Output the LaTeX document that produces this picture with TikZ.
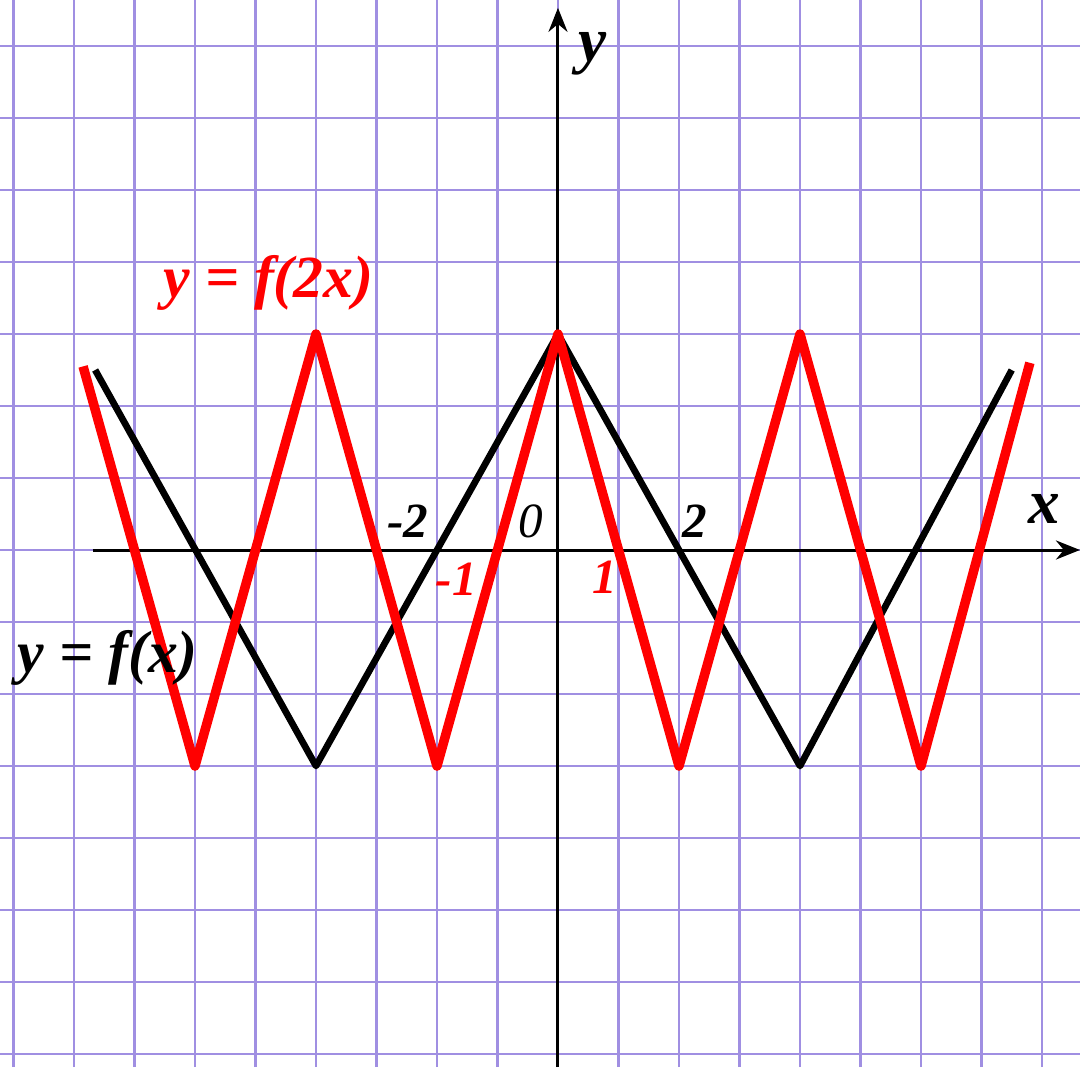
\documentclass[tikz,border=0pt]{standalone}
\usepackage{fontspec}
\setmainfont{Liberation Serif}
\usetikzlibrary{arrows.meta}
\definecolor{cmalla}{HTML}{A08FE2}
\definecolor{crojo}{HTML}{FF0000}
\tikzset{
  malla/.style={draw=cmalla, line width=0.6pt},
  eje/.style={-{Stealth[length=2.4mm, width=1.9mm]}, line width=0.85pt, draw=black},
  graf/.style={line width=1.9pt, draw=black, line join=round},
  grafr/.style={line width=2.7pt, draw=crojo, line join=round},
  etq/.style={font=\fontsize{17}{20}\selectfont\bfseries\itshape, anchor=base west, inner sep=0pt},
  etqeje/.style={font=\fontsize{18}{20}\selectfont\bfseries\itshape, anchor=base west, inner sep=0pt},
  num/.style={font=\fontsize{14}{16}\selectfont\bfseries\itshape, anchor=base west, inner sep=0pt},
}
\begin{document}
\begin{tikzpicture}[x=0.605cm, y=0.72cm]
  \useasboundingbox[fill=white] (-9.223,-7.181) rectangle (8.628,7.639);
  \draw[malla, step={(1,1)}] (-9.223,-7.181) grid (8.628,7.639);
  % ejes
  \coordinate (xini) at (-7.69,0);
  \coordinate (xfin) at (8.628,0);
  \coordinate (yini) at (0,-7.181);
  \coordinate (yfin) at (0,7.53);
  \draw[eje] (xini) -- (xfin);
  \draw[eje] (yini) -- (yfin);
  % graficas
  \draw[graf] (-7.65,2.5) -- (-4,-3) -- (0,3) -- (4,-3) -- (7.5,2.5);
  \draw[grafr] (-7.85,2.55) -- (-6,-3) -- (-4,3) -- (-2,-3) -- (0,3)
    -- (2,-3) -- (4,3) -- (6,-3) -- (7.8,2.6);
  % etiquetas
  \node[etqeje] (ex) at (7.77,0.375) {x};
  \node[etqeje] (ey) at (0.33,6.78) {y};
  \node[num] (nm2) at (-2.83,0.18) {-2};
  \node[num, font=\fontsize{14}{16}\selectfont\itshape] (n0) at (-0.66,0.17) {0};
  \node[num] (n2) at (2.05,0.17) {2};
  \node[num, text=crojo] (nm1) at (-2.03,-0.625) {-1};
  \node[num, text=crojo] (n1) at (0.56,-0.6) {1};
  \node[etq, text=crojo] (ef2) at (-6.53,3.514) {y = f(2x)};
  \node[etq] (ef) at (-8.94,-1.708) {y = f(x)};
\end{tikzpicture}
\end{document}
